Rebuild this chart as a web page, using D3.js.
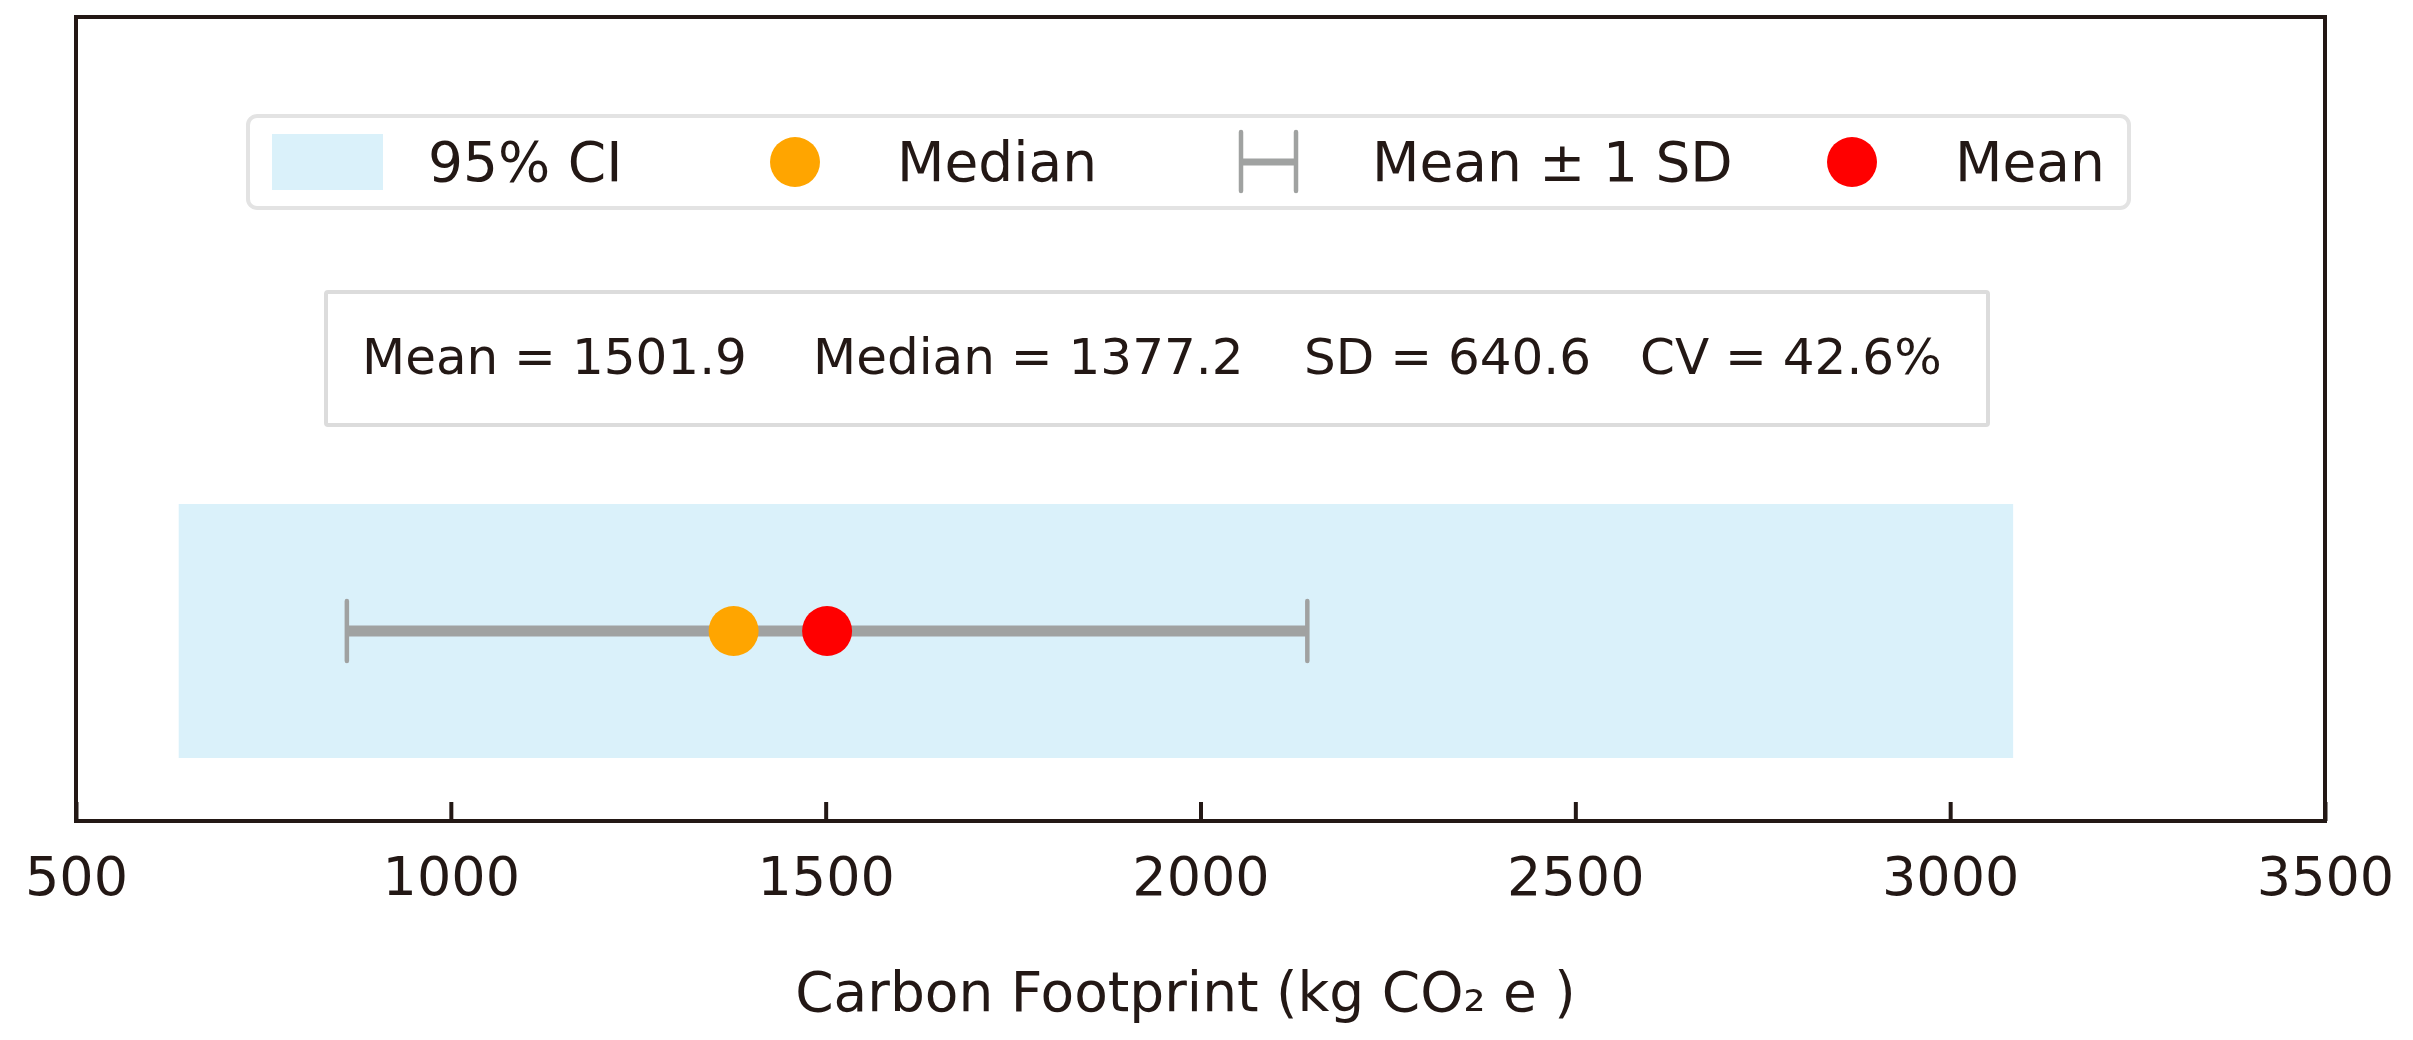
<!DOCTYPE html>
<html>
<head>
<meta charset="utf-8">
<script src="https://cdn.jsdelivr.net/npm/d3@7"></script>
<style>
  html, body { margin: 0; padding: 0; background: #ffffff; }
  svg { display: block; }
  text { font-family: "DejaVu Sans", sans-serif; fill: #231815; }
</style>
</head>
<body>
<svg id="chart" width="2413" height="1040"></svg>
<script>
// ---- data ----
const xTicks = [500, 1000, 1500, 2000, 2500, 3000, 3500];
const xDomain = [500, 3500];
const ciBounds = [637, 3084];          // 95% CI band
const meanValue = 1501.9;
const medianValue = 1377.2;
const sdValue = 640.6;
const cvValue = 42.6;
const legendLabels = ["95% CI", "Median", "Mean \u00B1 1 SD", "Mean"];
const statsLabels = ["Mean", "Median", "SD", "CV"];
const statsValues = [meanValue.toFixed(1), medianValue.toFixed(1), sdValue.toFixed(1), cvValue.toFixed(1) + "%"];

// ---- styles ----
const INK = "#231815";
const CI_COLOR = "#daf1fa";
const ERR_COLOR = "#a0a2a1";
const MEDIAN_COLOR = "#ffa500";
const MEAN_COLOR = "#ff0000";
const FONT = 54;
const LEG_FONT = 55;

const svg = d3.select("#chart");
const plot = { left: 76, right: 2325, top: 17, bottom: 821 };
const x = d3.scaleLinear().domain(xDomain).range([plot.left, plot.right]);
const yMid = 631;
const bandTop = 504, bandBottom = 758;

// CI band
svg.append("rect")
  .attr("x", x(ciBounds[0])).attr("y", bandTop)
  .attr("width", x(ciBounds[1]) - x(ciBounds[0]))
  .attr("height", bandBottom - bandTop)
  .attr("fill", CI_COLOR);

// error bar
const lo = meanValue - sdValue, hi = meanValue + sdValue;
svg.append("line")
  .attr("x1", x(lo)).attr("x2", x(hi)).attr("y1", yMid).attr("y2", yMid)
  .attr("stroke", ERR_COLOR).attr("stroke-width", 11);
[lo, hi].forEach(v => {
  svg.append("line")
    .attr("x1", x(v)).attr("x2", x(v)).attr("y1", yMid - 30).attr("y2", yMid + 30)
    .attr("stroke", ERR_COLOR).attr("stroke-width", 4.5).attr("stroke-linecap", "round");
});

// median and mean points
svg.append("circle").attr("cx", x(medianValue)).attr("cy", yMid).attr("r", 25).attr("fill", MEDIAN_COLOR);
svg.append("circle").attr("cx", x(meanValue)).attr("cy", yMid).attr("r", 25).attr("fill", MEAN_COLOR);

// axis
const axis = d3.axisBottom(x).tickValues(xTicks).tickSize(-19).tickPadding(0).tickFormat(d3.format("d"));
const gx = svg.append("g").attr("transform", `translate(0,${plot.bottom})`).call(axis);
gx.select(".domain").remove();
gx.selectAll(".tick line").attr("stroke", INK).attr("stroke-width", 4);
gx.selectAll(".tick text")
  .attr("y", 74).attr("dy", null)
  .style("font-size", FONT + "px").attr("fill", INK)
  .style("font-family", "DejaVu Sans");

// frame
svg.append("rect")
  .attr("x", plot.left).attr("y", plot.top)
  .attr("width", plot.right - plot.left).attr("height", plot.bottom - plot.top)
  .attr("fill", "none").attr("stroke", INK).attr("stroke-width", 4);

// axis label
const xl = svg.append("text")
  .attr("x", (plot.left + plot.right) / 2 - 15).attr("y", 1011)
  .attr("text-anchor", "middle").style("font-size", LEG_FONT + "px");
xl.append("tspan").text("Carbon Footprint (kg CO");
xl.append("tspan").text("\u2082");
xl.append("tspan").text(" e )");

// legend
svg.append("rect")
  .attr("x", 248).attr("y", 116).attr("width", 2129 - 248).attr("height", 92)
  .attr("rx", 9).attr("fill", "#ffffff").attr("stroke", "#e3e3e3").attr("stroke-width", 4);
const legY = 162;
svg.append("rect").attr("x", 272).attr("y", 134).attr("width", 111).attr("height", 56).attr("fill", CI_COLOR);
svg.append("circle").attr("cx", 795).attr("cy", legY).attr("r", 25).attr("fill", MEDIAN_COLOR);
svg.append("line").attr("x1", 1241).attr("x2", 1296).attr("y1", legY).attr("y2", legY)
  .attr("stroke", ERR_COLOR).attr("stroke-width", 7);
[1241, 1296].forEach(px => svg.append("line").attr("x1", px).attr("x2", px)
  .attr("y1", 132).attr("y2", 191).attr("stroke", ERR_COLOR).attr("stroke-width", 4.5).attr("stroke-linecap", "round"));
svg.append("circle").attr("cx", 1852).attr("cy", legY).attr("r", 25).attr("fill", MEAN_COLOR);
const legTextX = [428, 897, 1372, 1955];
legendLabels.forEach((t, i) => {
  svg.append("text").attr("x", legTextX[i]).attr("y", 181)
    .style("font-size", LEG_FONT + "px").text(t);
});

// stats box
svg.append("rect")
  .attr("x", 326).attr("y", 292).attr("width", 1988 - 326).attr("height", 425 - 292)
  .attr("rx", 2).attr("fill", "#ffffff").attr("stroke", "#dcdcdc").attr("stroke-width", 4);
const statsX = [362, 813, 1304, 1640];
const st = svg.append("text").attr("y", 374).style("font-size", "50px");
statsLabels.forEach((l, i) => {
  st.append("tspan").attr("x", statsX[i]).text(`${l} = ${statsValues[i]}`);
});
</script>
</body>
</html>
